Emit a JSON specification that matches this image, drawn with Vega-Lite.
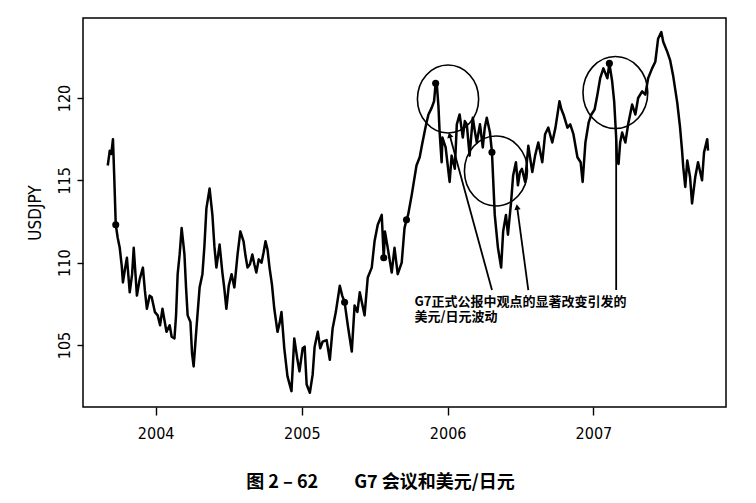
{
  "$schema": "https://vega.github.io/schema/vega-lite/v6.json",
  "autosize": {"type": "none"},
  "width": 643,
  "height": 389,
  "padding": {"left": 83, "top": 18, "right": 30, "bottom": 96},
  "background": "white",
  "title": {"text": "图\u00a02\u00a0–\u00a062\u3000\u3000G7\u00a0会议和美元/日元", "orient": "bottom", "anchor": "middle", "dx": -24, "offset": 33, "font": "Noto Sans CJK SC", "fontSize": 18, "fontWeight": "bold", "color": "black"},
  "config": {
    "view": {"stroke": "black", "strokeWidth": 1.5},
    "axis": {"grid": false, "domain": false, "tickColor": "black", "tickWidth": 1.4, "labelColor": "black", "titleColor": "black", "labelFont": "Liberation Sans Narrow, DejaVu Sans Condensed, Arial", "titleFont": "Liberation Sans Narrow, DejaVu Sans Condensed, Arial"}
  },
  "datasets": {
    "fx": [
      {"d": "2003-09-03", "v": 115.9}, {"d": "2003-09-08", "v": 116.8}, {"d": "2003-09-12", "v": 116.6}, {"d": "2003-09-16", "v": 117.5}, {"d": "2003-09-19", "v": 115.4}, {"d": "2003-09-23", "v": 112.3}, {"d": "2003-09-28", "v": 111.5}, {"d": "2003-10-03", "v": 110.9}, {"d": "2003-10-08", "v": 109.8}, {"d": "2003-10-11", "v": 108.8}, {"d": "2003-10-16", "v": 109.6}, {"d": "2003-10-21", "v": 110.3}, {"d": "2003-10-28", "v": 108.2}, {"d": "2003-11-03", "v": 109.3}, {"d": "2003-11-07", "v": 110.9}, {"d": "2003-11-15", "v": 108.0}, {"d": "2003-11-22", "v": 109.0}, {"d": "2003-11-30", "v": 109.7}, {"d": "2003-12-05", "v": 108.3}, {"d": "2003-12-10", "v": 107.2}, {"d": "2003-12-17", "v": 108.0}, {"d": "2003-12-22", "v": 107.9}, {"d": "2003-12-30", "v": 107.0},
      {"d": "2004-01-06", "v": 106.8}, {"d": "2004-01-12", "v": 106.2}, {"d": "2004-01-18", "v": 107.2}, {"d": "2004-01-23", "v": 106.5}, {"d": "2004-01-28", "v": 105.8}, {"d": "2004-02-05", "v": 106.2}, {"d": "2004-02-10", "v": 105.5}, {"d": "2004-02-17", "v": 105.4}, {"d": "2004-02-21", "v": 106.8}, {"d": "2004-02-25", "v": 109.3}, {"d": "2004-03-01", "v": 110.5}, {"d": "2004-03-06", "v": 112.1}, {"d": "2004-03-10", "v": 111.2}, {"d": "2004-03-13", "v": 110.5}, {"d": "2004-03-17", "v": 108.5}, {"d": "2004-03-21", "v": 106.8}, {"d": "2004-03-28", "v": 106.4}, {"d": "2004-04-01", "v": 104.5}, {"d": "2004-04-05", "v": 103.7}, {"d": "2004-04-12", "v": 106.0}, {"d": "2004-04-20", "v": 108.5}, {"d": "2004-04-27", "v": 109.3}, {"d": "2004-05-02", "v": 111.0}, {"d": "2004-05-07", "v": 113.3}, {"d": "2004-05-15", "v": 114.5}, {"d": "2004-05-22", "v": 112.9}, {"d": "2004-05-27", "v": 111.0}, {"d": "2004-06-01", "v": 109.7}, {"d": "2004-06-09", "v": 111.1}, {"d": "2004-06-16", "v": 109.4}, {"d": "2004-06-21", "v": 108.4}, {"d": "2004-06-26", "v": 107.2}, {"d": "2004-07-02", "v": 108.6}, {"d": "2004-07-09", "v": 109.3}, {"d": "2004-07-16", "v": 108.5}, {"d": "2004-07-24", "v": 110.5}, {"d": "2004-07-31", "v": 111.9}, {"d": "2004-08-08", "v": 111.3}, {"d": "2004-08-13", "v": 110.4}, {"d": "2004-08-18", "v": 109.7}, {"d": "2004-08-24", "v": 109.9}, {"d": "2004-08-30", "v": 110.5}, {"d": "2004-09-04", "v": 109.9}, {"d": "2004-09-09", "v": 109.4}, {"d": "2004-09-15", "v": 110.2}, {"d": "2004-09-22", "v": 110.0}, {"d": "2004-09-27", "v": 110.6}, {"d": "2004-10-02", "v": 111.3}, {"d": "2004-10-07", "v": 110.8}, {"d": "2004-10-12", "v": 109.7}, {"d": "2004-10-18", "v": 108.7}, {"d": "2004-10-24", "v": 107.2}, {"d": "2004-11-01", "v": 105.8}, {"d": "2004-11-06", "v": 106.3}, {"d": "2004-11-11", "v": 107.0}, {"d": "2004-11-18", "v": 104.8}, {"d": "2004-11-26", "v": 103.1}, {"d": "2004-12-06", "v": 102.2}, {"d": "2004-12-13", "v": 105.4}, {"d": "2004-12-21", "v": 104.1}, {"d": "2004-12-26", "v": 103.4},
      {"d": "2005-01-03", "v": 104.8}, {"d": "2005-01-08", "v": 104.9}, {"d": "2005-01-13", "v": 102.6}, {"d": "2005-01-21", "v": 102.1}, {"d": "2005-01-28", "v": 103.2}, {"d": "2005-02-02", "v": 104.9}, {"d": "2005-02-10", "v": 105.8}, {"d": "2005-02-16", "v": 104.8}, {"d": "2005-02-22", "v": 105.2}, {"d": "2005-03-04", "v": 105.3}, {"d": "2005-03-12", "v": 104.1}, {"d": "2005-03-19", "v": 106.0}, {"d": "2005-03-27", "v": 107.0}, {"d": "2005-04-06", "v": 108.6}, {"d": "2005-04-12", "v": 108.0}, {"d": "2005-04-18", "v": 107.6}, {"d": "2005-04-26", "v": 106.2}, {"d": "2005-05-06", "v": 104.6}, {"d": "2005-05-13", "v": 107.4}, {"d": "2005-05-20", "v": 107.0}, {"d": "2005-05-26", "v": 108.2}, {"d": "2005-06-01", "v": 107.5}, {"d": "2005-06-07", "v": 106.8}, {"d": "2005-06-15", "v": 109.1}, {"d": "2005-06-25", "v": 109.7}, {"d": "2005-07-02", "v": 111.3}, {"d": "2005-07-10", "v": 112.3}, {"d": "2005-07-20", "v": 112.9}, {"d": "2005-07-25", "v": 110.3}, {"d": "2005-07-28", "v": 111.9}, {"d": "2005-08-04", "v": 110.9}, {"d": "2005-08-10", "v": 110.0}, {"d": "2005-08-14", "v": 109.4}, {"d": "2005-08-21", "v": 110.9}, {"d": "2005-08-29", "v": 109.3}, {"d": "2005-09-08", "v": 110.0}, {"d": "2005-09-15", "v": 112.1}, {"d": "2005-09-20", "v": 112.6}, {"d": "2005-09-24", "v": 112.9}, {"d": "2005-10-03", "v": 114.1}, {"d": "2005-10-09", "v": 115.0}, {"d": "2005-10-15", "v": 115.9}, {"d": "2005-10-23", "v": 116.4}, {"d": "2005-10-30", "v": 117.3}, {"d": "2005-11-04", "v": 117.9}, {"d": "2005-11-09", "v": 118.5}, {"d": "2005-11-14", "v": 119.0}, {"d": "2005-11-22", "v": 119.4}, {"d": "2005-11-28", "v": 119.8}, {"d": "2005-12-02", "v": 120.9}, {"d": "2005-12-05", "v": 120.8}, {"d": "2005-12-09", "v": 119.5}, {"d": "2005-12-12", "v": 117.9}, {"d": "2005-12-17", "v": 116.1}, {"d": "2005-12-19", "v": 117.6}, {"d": "2005-12-27", "v": 117.0},
      {"d": "2006-01-06", "v": 114.9}, {"d": "2006-01-11", "v": 116.5}, {"d": "2006-01-19", "v": 115.7}, {"d": "2006-01-24", "v": 118.4}, {"d": "2006-01-31", "v": 119.0}, {"d": "2006-02-08", "v": 117.6}, {"d": "2006-02-13", "v": 118.6}, {"d": "2006-02-18", "v": 118.4}, {"d": "2006-02-25", "v": 116.5}, {"d": "2006-03-05", "v": 118.8}, {"d": "2006-03-10", "v": 118.0}, {"d": "2006-03-15", "v": 117.3}, {"d": "2006-03-23", "v": 118.4}, {"d": "2006-03-30", "v": 117.0}, {"d": "2006-04-04", "v": 118.2}, {"d": "2006-04-09", "v": 118.8}, {"d": "2006-04-17", "v": 117.9}, {"d": "2006-04-22", "v": 116.7}, {"d": "2006-04-29", "v": 112.9}, {"d": "2006-05-07", "v": 110.9}, {"d": "2006-05-15", "v": 109.7}, {"d": "2006-05-20", "v": 111.9}, {"d": "2006-05-27", "v": 112.9}, {"d": "2006-06-01", "v": 111.7}, {"d": "2006-06-09", "v": 113.7}, {"d": "2006-06-14", "v": 115.3}, {"d": "2006-06-21", "v": 116.1}, {"d": "2006-06-26", "v": 114.7}, {"d": "2006-07-01", "v": 115.5}, {"d": "2006-07-06", "v": 115.7}, {"d": "2006-07-14", "v": 114.9}, {"d": "2006-07-22", "v": 117.1}, {"d": "2006-08-01", "v": 115.5}, {"d": "2006-08-08", "v": 116.5}, {"d": "2006-08-16", "v": 117.3}, {"d": "2006-08-26", "v": 116.1}, {"d": "2006-09-02", "v": 117.8}, {"d": "2006-09-10", "v": 118.2}, {"d": "2006-09-20", "v": 117.3}, {"d": "2006-09-28", "v": 118.2}, {"d": "2006-10-08", "v": 119.8}, {"d": "2006-10-13", "v": 119.3}, {"d": "2006-10-18", "v": 119.0}, {"d": "2006-10-28", "v": 118.2}, {"d": "2006-11-04", "v": 118.4}, {"d": "2006-11-12", "v": 117.8}, {"d": "2006-11-22", "v": 116.4}, {"d": "2006-11-30", "v": 116.1}, {"d": "2006-12-05", "v": 114.9}, {"d": "2006-12-12", "v": 117.3}, {"d": "2006-12-20", "v": 118.5}, {"d": "2006-12-27", "v": 119.0},
      {"d": "2007-01-04", "v": 119.3}, {"d": "2007-01-11", "v": 120.2}, {"d": "2007-01-18", "v": 121.2}, {"d": "2007-01-26", "v": 121.8}, {"d": "2007-02-05", "v": 121.2}, {"d": "2007-02-10", "v": 122.1}, {"d": "2007-02-17", "v": 121.0}, {"d": "2007-02-22", "v": 119.8}, {"d": "2007-02-27", "v": 117.6}, {"d": "2007-03-01", "v": 116.2}, {"d": "2007-03-05", "v": 116.0}, {"d": "2007-03-09", "v": 117.3}, {"d": "2007-03-14", "v": 117.9}, {"d": "2007-03-22", "v": 117.3}, {"d": "2007-03-29", "v": 118.4}, {"d": "2007-04-08", "v": 119.6}, {"d": "2007-04-16", "v": 119.0}, {"d": "2007-04-23", "v": 120.0}, {"d": "2007-05-03", "v": 120.4}, {"d": "2007-05-11", "v": 120.2}, {"d": "2007-05-18", "v": 121.2}, {"d": "2007-05-28", "v": 121.8}, {"d": "2007-06-05", "v": 122.2}, {"d": "2007-06-12", "v": 123.6}, {"d": "2007-06-20", "v": 124.0}, {"d": "2007-06-25", "v": 123.4}, {"d": "2007-07-05", "v": 122.8}, {"d": "2007-07-12", "v": 122.3}, {"d": "2007-07-20", "v": 121.3}, {"d": "2007-07-30", "v": 119.7}, {"d": "2007-08-06", "v": 118.2}, {"d": "2007-08-11", "v": 116.8}, {"d": "2007-08-14", "v": 115.8}, {"d": "2007-08-19", "v": 114.6}, {"d": "2007-08-24", "v": 116.2}, {"d": "2007-08-31", "v": 115.2}, {"d": "2007-09-05", "v": 113.6}, {"d": "2007-09-13", "v": 115.2}, {"d": "2007-09-20", "v": 116.1}, {"d": "2007-09-30", "v": 115.0}, {"d": "2007-10-05", "v": 116.7}, {"d": "2007-10-13", "v": 117.5}, {"d": "2007-10-15", "v": 116.8}
    ],
    "g7": [
      {"d": "2003-09-23", "v": 112.3}, {"d": "2005-04-18", "v": 107.6}, {"d": "2005-07-25", "v": 110.3}, {"d": "2005-09-20", "v": 112.6}, {"d": "2005-12-02", "v": 120.9}, {"d": "2006-04-22", "v": 116.7}, {"d": "2007-02-10", "v": 122.1}
    ],
    "rings": [
      {"id": "c1", "d": "2006-01-02", "v": 119.94},
      {"id": "c2", "d": "2006-05-02", "v": 115.57},
      {"id": "c3", "d": "2007-02-25", "v": 120.33}
    ],
    "arrows": [
      {"id": "A", "d": "2006-04-22", "v": 108.34, "d2": "2006-01-06", "v2": 117.75},
      {"id": "B", "d": "2006-07-22", "v": 108.34, "d2": "2006-06-24", "v2": 113.38},
      {"id": "C", "d": "2007-02-27", "v": 108.34, "d2": "2007-02-27", "v2": 117.45}
    ],
    "note": [
      {"d": "2005-10-10", "v": 107.98, "t": "G7正式公报中观点的显著改变引发的"},
      {"d": "2005-10-10", "v": 107.07, "t": "美元/日元波动"}
    ]
  },
  "layer": [
    {
      "data": {"name": "fx"},
      "mark": {"type": "line", "color": "black", "strokeWidth": 2.5, "strokeJoin": "round"},
      "encoding": {
        "x": {"field": "d", "type": "temporal", "scale": {"domain": ["2003-07-03", "2007-11-29"]}, "axis": {"title": null, "values": [{"year": 2004, "month": 1, "date": 1}, {"year": 2005, "month": 1, "date": 1}, {"year": 2006, "month": 1, "date": 1}, {"year": 2007, "month": 1, "date": 1}], "format": "%Y", "labelFontSize": 16, "tickSize": 8, "labelPadding": 10, "labelFlush": false}},
        "y": {"field": "v", "type": "quantitative", "scale": {"domain": [101.236, 124.857], "nice": false, "zero": false}, "axis": {"title": "USDJPY", "values": [105, 110, 115, 120], "labelAngle": -90, "labelAlign": "center", "labelBaseline": "bottom", "labelFontSize": 16, "tickSize": 6, "labelPadding": 5, "titleFontSize": 17, "titleFontWeight": "normal", "titlePadding": 12}}
      }
    },
    {
      "data": {"name": "g7"},
      "mark": {"type": "point", "shape": "circle", "filled": true, "color": "black", "size": 50, "opacity": 1},
      "encoding": {"x": {"field": "d", "type": "temporal"}, "y": {"field": "v", "type": "quantitative"}}
    },
    {
      "data": {"name": "rings"},
      "mark": {"type": "point", "shape": "M -0.9 0 A 0.9 1 0 1 1 0.9 0 A 0.9 1 0 1 1 -0.9 0 Z", "filled": false, "stroke": "black", "strokeWidth": 1.6, "opacity": 1},
      "encoding": {
        "x": {"field": "d", "type": "temporal"},
        "y": {"field": "v", "type": "quantitative"},
        "size": {"field": "id", "type": "nominal", "scale": {"domain": ["c1", "c2", "c3"], "range": [4624, 5184, 7225]}, "legend": null}
      }
    },
    {
      "data": {"name": "arrows"},
      "mark": {"type": "rule", "color": "black", "strokeWidth": 1.8},
      "encoding": {"x": {"field": "d", "type": "temporal"}, "y": {"field": "v", "type": "quantitative"}, "x2": {"field": "d2"}, "y2": {"field": "v2"}}
    },
    {
      "data": {"name": "arrows"},
      "transform": [{"filter": "datum.id === 'A'"}],
      "mark": {"type": "point", "shape": "triangle-up", "filled": true, "color": "black", "size": 40, "angle": -15, "opacity": 1},
      "encoding": {"x": {"field": "d2", "type": "temporal"}, "y": {"field": "v2", "type": "quantitative"}}
    },
    {
      "data": {"name": "arrows"},
      "transform": [{"filter": "datum.id === 'B'"}],
      "mark": {"type": "point", "shape": "triangle-up", "filled": true, "color": "black", "size": 40, "angle": -8, "opacity": 1},
      "encoding": {"x": {"field": "d2", "type": "temporal"}, "y": {"field": "v2", "type": "quantitative"}}
    },
    {
      "data": {"name": "note"},
      "mark": {"type": "text", "align": "left", "baseline": "top", "font": "Noto Sans CJK SC", "fontSize": 13, "fontWeight": "bold", "color": "black"},
      "encoding": {"x": {"field": "d", "type": "temporal"}, "y": {"field": "v", "type": "quantitative"}, "text": {"field": "t"}}
    }
  ]
}
